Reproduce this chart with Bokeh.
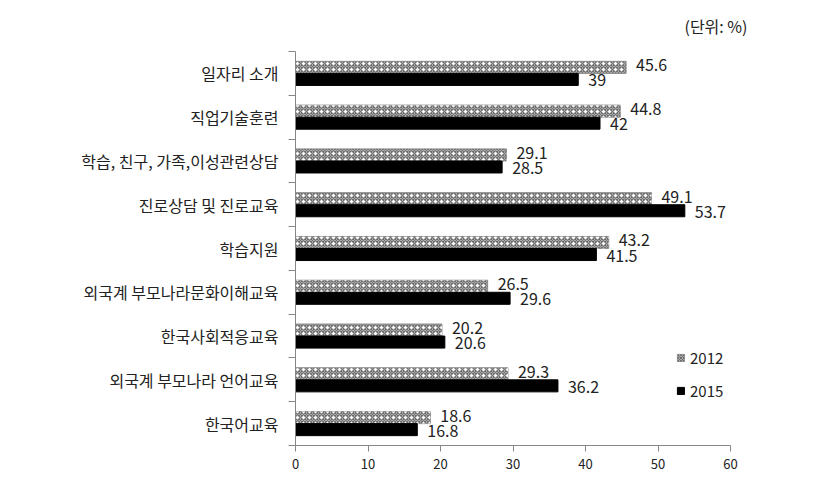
from bokeh.plotting import figure
from bokeh.models import (Range1d, FixedTicker, ColumnDataSource, Legend, LegendItem)
from bokeh.embed import file_html
from bokeh.resources import INLINE

categories = ["일자리 소개", "직업기술훈련", "학습, 친구, 가족,이성관련상담", "진로상담 및 진로교육",
              "학습지원", "외국계 부모나라문화이해교육", "한국사회적응교육", "외국계 부모나라 언어교육", "한국어교육"]
values_2012 = [45.6, 44.8, 29.1, 49.1, 43.2, 26.5, 20.2, 29.3, 18.6]
values_2015 = [39, 42, 28.5, 53.7, 41.5, 29.6, 20.6, 36.2, 16.8]
series_names = ["2012", "2015"]
x_ticks = [0, 10, 20, 30, 40, 50, 60]
unit_text = "(단위: %)"

FONT = "Noto Sans CJK KR"
TXT = "#222222"
AX = "#868686"

n = len(categories)
centers = [n - i - 0.5 for i in range(n)]
bar_h = 0.275
off = bar_h / 2

src12 = ColumnDataSource(dict(y=[c + off for c in centers], v=values_2012,
                              t=[f"{v:g}" for v in values_2012]))
src15 = ColumnDataSource(dict(y=[c - off for c in centers], v=values_2015,
                              t=[f"{v:g}" for v in values_2015]))

p = figure(width=822, height=480, output_backend="svg", toolbar_location=None,
           x_range=Range1d(0, 60), y_range=Range1d(0, n),
           min_border_left=295, min_border_right=92, min_border_top=51, min_border_bottom=35)
p.outline_line_color = None
p.xgrid.visible = False
p.ygrid.visible = False
p.background_fill_color = "white"

# unit note as a right-aligned title
p.title.text = unit_text
p.title.align = "right"
p.title.vertical_align = "top"
p.title.offset = -17
p.title.standoff = 24
p.title.text_font = FONT
p.title.text_font_size = "16px"
p.title.text_font_style = "normal"
p.title.text_color = TXT

r12 = p.hbar(y="y", left=0, right="v", height=bar_h, source=src12,
             fill_color="#a8a8a8", line_color="#8c8c8c", line_width=1,
             hatch_pattern="diagonal_cross", hatch_color="#6e6e6e", hatch_scale=3, hatch_weight=1)
p.hbar(y="y", left=0, right="v", height=bar_h, source=src12,
       fill_alpha=0, line_alpha=0, hatch_pattern="dot", hatch_color="white", hatch_scale=6, hatch_weight=1.5)
r15 = p.hbar(y="y", left=0, right="v", height=bar_h, source=src15,
             fill_color="black", line_color="black")

p.text(x="v", y="y", text="t", source=src12, x_offset=10, y_offset=-2, text_align="left",
       text_baseline="middle", text_font={"value": FONT}, text_font_size="16px", text_color=TXT)
p.text(x="v", y="y", text="t", source=src15, x_offset=10, y_offset=1, text_align="left",
       text_baseline="middle", text_font={"value": FONT}, text_font_size="16px", text_color=TXT)

# x axis
xa = p.xaxis[0]
xa.ticker = FixedTicker(ticks=x_ticks, minor_ticks=[])
xa.axis_line_color = AX
xa.major_tick_line_color = AX
xa.major_tick_in = 0
xa.major_tick_out = 6
xa.minor_tick_line_color = None
xa.major_label_text_font = FONT
xa.major_label_text_font_size = "13px"
xa.major_label_text_color = TXT
xa.major_label_standoff = 7

# y axis: labels at category centers, tick marks at boundaries
ya = p.yaxis[0]
ya.ticker = FixedTicker(ticks=centers, minor_ticks=list(range(n + 1)))
ya.major_label_overrides = {c: categories[i] for i, c in enumerate(centers)}
ya.axis_line_color = AX
ya.major_tick_line_color = None
ya.major_tick_in = 0
ya.major_tick_out = 7
ya.minor_tick_line_color = AX
ya.minor_tick_in = 0
ya.minor_tick_out = 7
ya.major_label_text_font = FONT
ya.major_label_text_font_size = "16px"
ya.major_label_text_color = TXT
ya.major_label_standoff = 10

legend = Legend(items=[LegendItem(label=series_names[0], renderers=[r12]),
                       LegendItem(label=series_names[1], renderers=[r15])],
                location=(381, 44), glyph_width=9, glyph_height=9, spacing=12,
                label_text_font=FONT, label_text_font_size="15px", label_text_color=TXT,
                label_standoff=5, padding=0, margin=0, border_line_color=None,
                background_fill_alpha=0, label_height=20)
p.add_layout(legend)

open("out.html", "w").write(file_html(p, INLINE))
